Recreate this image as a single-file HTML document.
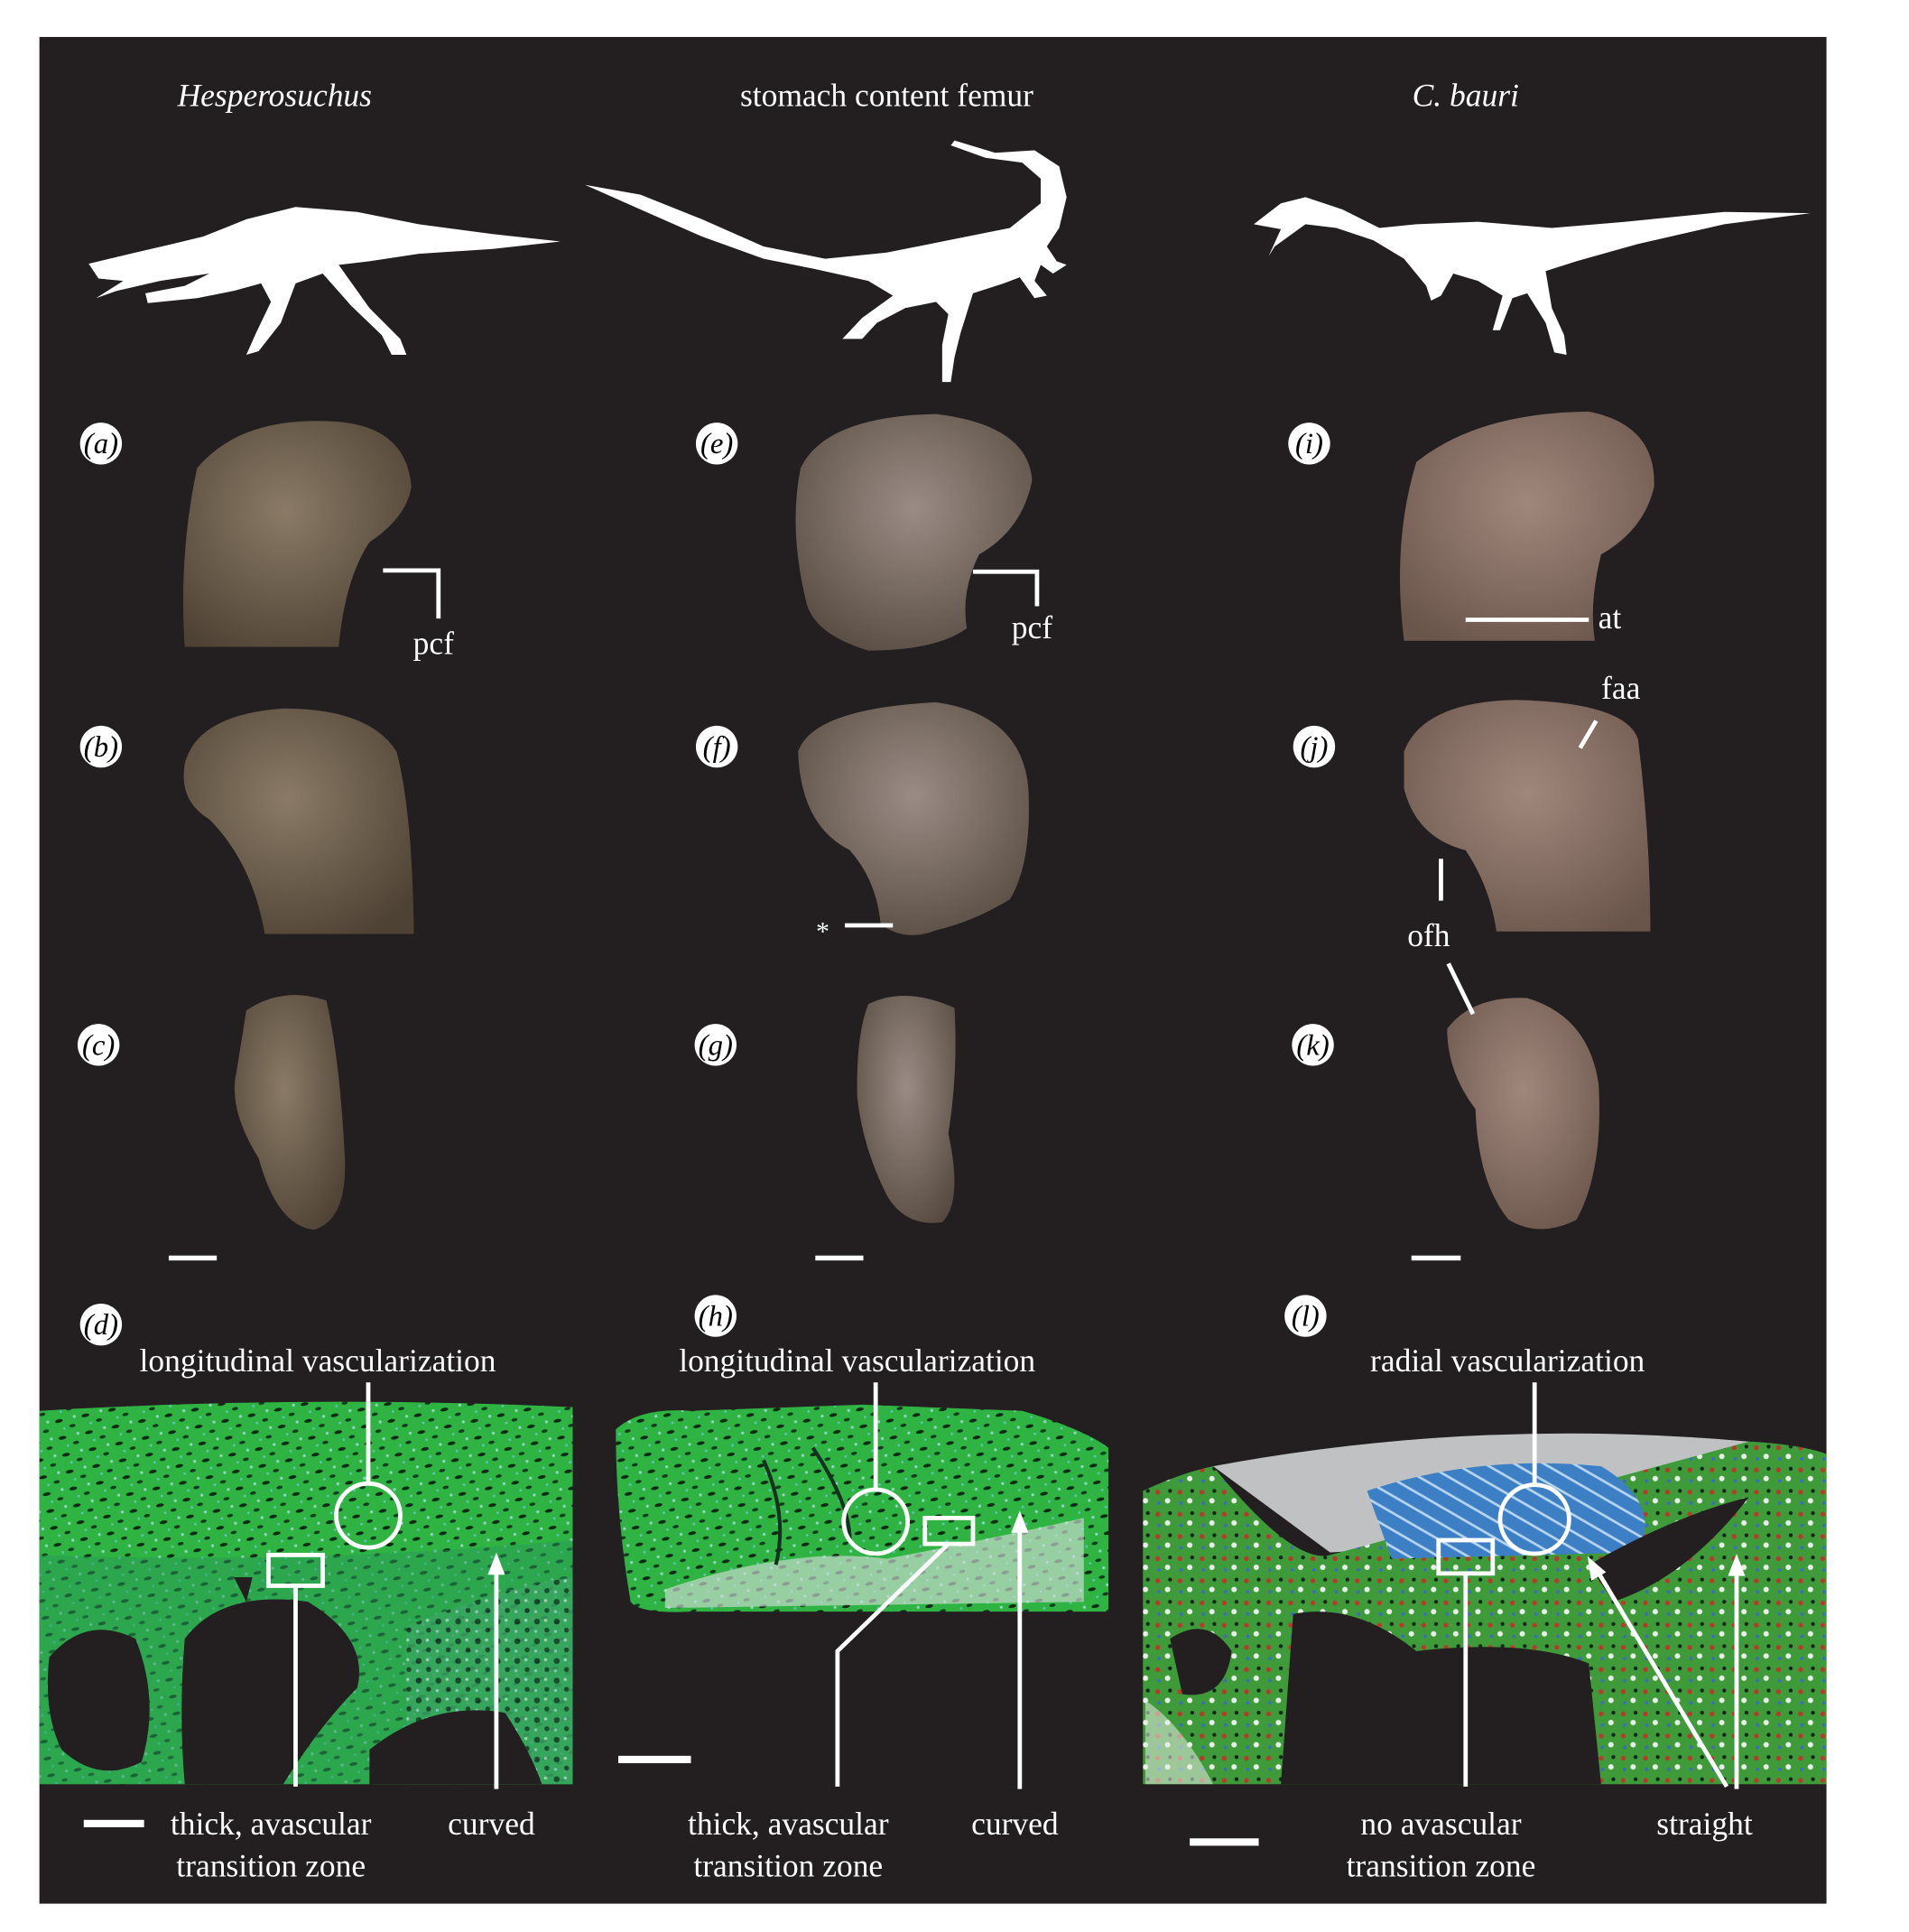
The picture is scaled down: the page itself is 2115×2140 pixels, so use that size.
<!DOCTYPE html>
<html><head><meta charset="utf-8"><style>
html,body{margin:0;padding:0;background:#fff;}
svg{display:block;}
text{font-family:"Liberation Serif",serif;fill:#fff;}
</style></head><body>
<svg width="2115" height="2140" viewBox="0 0 1550 1568" preserveAspectRatio="none" xmlns="http://www.w3.org/2000/svg">
<defs>
<pattern id="pores" width="22" height="14" patternUnits="userSpaceOnUse" patternTransform="rotate(-12)">
<rect width="22" height="14" fill="#2fb443"/>
<ellipse cx="5" cy="4" rx="3.2" ry="1.4" fill="#0e2a14"/>
<ellipse cx="15" cy="10" rx="2.5" ry="1.3" fill="#123a1c"/>
<circle cx="18" cy="3" r="1.2" fill="#8fd6c0"/>
<circle cx="8" cy="11" r="1" fill="#5fc5b8"/>
</pattern>
<pattern id="pores2" width="16" height="16" patternUnits="userSpaceOnUse">
<rect width="16" height="16" fill="#3aa564"/>
<circle cx="4" cy="4" r="2.4" fill="#10251a"/>
<circle cx="12" cy="11" r="2" fill="#13261b"/>
<circle cx="11" cy="3" r="1.3" fill="#c9e6e0"/>
<circle cx="3" cy="12" r="1.2" fill="#b0d8e8"/>
</pattern>
<pattern id="redp" width="18" height="18" patternUnits="userSpaceOnUse">
<rect width="18" height="18" fill="#3f9a3a"/>
<circle cx="4" cy="5" r="2" fill="#b83a2a"/>
<circle cx="12" cy="12" r="2.2" fill="#e8eee8"/>
<circle cx="14" cy="4" r="1.6" fill="#13261b"/>
<circle cx="5" cy="14" r="1.4" fill="#3a6cc0"/>
</pattern>
<pattern id="bluep" width="12" height="12" patternUnits="userSpaceOnUse" patternTransform="rotate(30)">
<rect width="12" height="12" fill="#3d7fc4"/>
<rect x="0" y="5" width="12" height="2" fill="#b6d4ee"/>
</pattern>
<radialGradient id="boneA" cx="0.45" cy="0.4" r="0.7"><stop offset="0" stop-color="#8a7a66"/><stop offset="1" stop-color="#4e4234"/></radialGradient>
<radialGradient id="boneE" cx="0.5" cy="0.4" r="0.7"><stop offset="0" stop-color="#9a8c84"/><stop offset="1" stop-color="#55493f"/></radialGradient>
<radialGradient id="boneI" cx="0.5" cy="0.4" r="0.7"><stop offset="0" stop-color="#a0877c"/><stop offset="1" stop-color="#6a554a"/></radialGradient>
</defs>

<rect x="32" y="30" width="1451" height="1515" fill="#231f20"/>

<text x="223" y="86" font-size="26" font-style="italic" text-anchor="middle">Hesperosuchus</text>
<text x="720" y="86" font-size="26" text-anchor="middle">stomach content femur</text>
<text x="1190" y="86" font-size="26" font-style="italic" text-anchor="middle">C. bauri</text>

<!-- silhouettes -->
<path fill="#fff" d="M72 214 L110 205 L140 198 L165 192 L200 178 L240 168 L290 172 L340 182 L400 190 L455 196 L400 202 L340 206 L300 212 L275 215 L300 250 L325 275 L330 288 L318 288 L310 272 L285 248 L262 222 L240 230 L228 262 L210 285 L200 288 L208 270 L220 245 L212 230 L190 236 L160 242 L120 246 L118 238 L150 232 L170 222 L130 228 L95 236 L78 242 L100 228 L80 226 Z"/>
<path fill="#fff" d="M475 150 L520 158 L570 178 L620 200 L670 210 L720 205 L770 195 L820 185 L845 165 L845 145 L830 132 L800 128 L772 118 L775 114 L808 124 L840 122 L860 135 L866 160 L860 185 L850 200 L858 212 L866 215 L855 222 L845 215 L840 228 L850 240 L840 242 L828 225 L815 230 L790 238 L780 270 L775 290 L772 310 L765 310 L765 280 L770 255 L760 245 L735 250 L712 262 L700 275 L684 275 L700 258 L725 240 L705 228 L660 218 L620 210 L570 192 L520 170 Z"/>
<path fill="#fff" d="M1018 182 L1040 165 L1060 160 L1090 170 L1120 185 L1150 182 L1200 180 L1260 185 L1320 180 L1400 172 L1470 173 L1400 182 L1330 198 L1280 212 L1255 220 L1260 250 L1270 272 L1272 288 L1262 286 L1255 262 L1240 238 L1228 242 L1218 268 L1212 268 L1220 240 L1200 228 L1180 222 L1170 240 L1162 244 L1158 232 L1140 210 L1115 195 L1085 185 L1060 182 L1035 200 L1030 208 L1040 186 Z"/>

<!-- bones -->
<path fill="url(#boneA)" d="M160 380 Q195 338 270 342 Q330 345 334 395 Q330 420 300 440 Q280 470 275 525 L150 525 Q145 450 160 380 Z"/>
<path fill="url(#boneA)" d="M150 620 Q160 580 230 575 Q300 575 322 610 Q335 660 336 758 L215 758 Q205 700 170 665 Q145 650 150 620 Z"/>
<path fill="url(#boneA)" d="M200 820 Q230 800 265 812 Q276 860 280 940 Q282 990 255 998 Q225 995 210 940 Q185 900 192 870 Z"/>
<path fill="url(#boneE)" d="M650 380 Q670 338 760 336 Q835 345 838 390 Q830 430 795 450 Q780 480 785 510 Q760 528 705 528 Q662 515 655 490 Q640 430 650 380 Z"/>
<path fill="url(#boneE)" d="M648 610 Q660 575 760 570 Q830 580 835 640 Q838 700 820 730 Q790 748 760 755 Q735 765 715 750 Q712 715 690 690 Q650 670 648 610 Z"/>
<path fill="url(#boneE)" d="M705 815 Q735 800 775 818 Q778 870 770 920 Q782 975 765 992 Q735 996 720 970 Q700 930 696 890 Q695 840 705 815 Z"/>
<path fill="url(#boneI)" d="M1150 375 Q1200 335 1290 334 Q1345 345 1343 395 Q1335 430 1300 450 Q1290 490 1295 520 L1140 520 Q1130 440 1150 375 Z"/>
<path fill="url(#boneI)" d="M1140 610 Q1155 570 1230 568 Q1320 570 1330 600 Q1340 680 1340 756 L1215 756 Q1210 720 1190 690 Q1150 680 1140 640 Z"/>
<path fill="url(#boneI)" d="M1175 835 Q1195 808 1240 810 Q1290 825 1298 880 Q1302 950 1280 990 Q1250 1005 1225 990 Q1200 960 1198 900 Q1175 870 1175 835 Z"/>

<!-- panel letters -->
<g font-size="24" font-style="italic">
<g><circle cx="82" cy="360" r="17" fill="#fff"/><text x="82" y="368" text-anchor="middle" style="fill:#000">(a)</text></g>
<g><circle cx="82" cy="606" r="17" fill="#fff"/><text x="82" y="614" text-anchor="middle" style="fill:#000">(b)</text></g>
<g><circle cx="80" cy="848" r="17" fill="#fff"/><text x="80" y="856" text-anchor="middle" style="fill:#000">(c)</text></g>
<g><circle cx="82" cy="1075" r="17" fill="#fff"/><text x="82" y="1083" text-anchor="middle" style="fill:#000">(d)</text></g>
<g><circle cx="582" cy="360" r="17" fill="#fff"/><text x="582" y="368" text-anchor="middle" style="fill:#000">(e)</text></g>
<g><circle cx="582" cy="606" r="17" fill="#fff"/><text x="582" y="614" text-anchor="middle" style="fill:#000">(f)</text></g>
<g><circle cx="581" cy="848" r="17" fill="#fff"/><text x="581" y="856" text-anchor="middle" style="fill:#000">(g)</text></g>
<g><circle cx="581" cy="1068" r="17" fill="#fff"/><text x="581" y="1076" text-anchor="middle" style="fill:#000">(h)</text></g>
<g><circle cx="1063" cy="360" r="17" fill="#fff"/><text x="1063" y="368" text-anchor="middle" style="fill:#000">(i)</text></g>
<g><circle cx="1067" cy="606" r="17" fill="#fff"/><text x="1067" y="614" text-anchor="middle" style="fill:#000">(j)</text></g>
<g><circle cx="1066" cy="848" r="17" fill="#fff"/><text x="1066" y="856" text-anchor="middle" style="fill:#000">(k)</text></g>
<g><circle cx="1060" cy="1068" r="17" fill="#fff"/><text x="1060" y="1076" text-anchor="middle" style="fill:#000">(l)</text></g>
</g>

<!-- annotations on femora -->
<g stroke="#fff" stroke-width="3.5" fill="none">
<path d="M311 463 L356 463 L356 502"/>
<path d="M790 464 L842 464 L842 492"/>
<line x1="1190" y1="503" x2="1290" y2="503"/>
<line x1="1296" y1="585" x2="1283" y2="607"/>
<line x1="1170" y1="697" x2="1170" y2="731"/>
<line x1="1176" y1="782" x2="1196" y2="823"/>
<line x1="686" y1="751" x2="725" y2="751"/>
</g>
<text x="352" y="531" font-size="26" text-anchor="middle">pcf</text>
<text x="838" y="518" font-size="26" text-anchor="middle">pcf</text>
<text x="1307" y="510" font-size="26" text-anchor="middle">at</text>
<text x="1316" y="567" font-size="26" text-anchor="middle">faa</text>
<text x="1160" y="768" font-size="26" text-anchor="middle">ofh</text>
<text x="668" y="763" font-size="22" text-anchor="middle">*</text>

<!-- scale bars -->
<g fill="#fff">
<rect x="137" y="1019" width="39" height="4"/>
<rect x="662" y="1019" width="39" height="4"/>
<rect x="1146" y="1019" width="40" height="4"/>
<rect x="68" y="1477" width="49" height="6"/>
<rect x="502" y="1425" width="59" height="6"/>
<rect x="966" y="1492" width="56" height="6"/>
</g>

<!-- histology d -->
<g>
<path fill="url(#pores)" d="M32 1145 Q250 1132 465 1142 L465 1448 L32 1448 Z"/>
<path fill="#2a9a5a" opacity="0.5" d="M32 1262 Q250 1270 465 1250 L465 1448 L32 1448 Z"/>
<path fill="url(#pores2)" opacity="0.7" d="M330 1320 Q400 1290 465 1280 L465 1448 L330 1448 Z"/>
<path fill="#231f20" d="M40 1345 Q70 1310 110 1330 Q130 1380 115 1430 Q80 1448 50 1420 Q35 1390 40 1345 Z"/>
<path fill="#231f20" d="M150 1330 Q180 1290 250 1300 Q300 1330 290 1370 Q260 1400 230 1448 L150 1448 Q145 1390 150 1330 Z"/>
<path fill="#231f20" d="M300 1420 Q350 1380 410 1390 Q430 1420 440 1448 L300 1448 Z"/>
<path fill="#231f20" d="M190 1280 L205 1280 L200 1300 Z"/>
</g>
<!-- histology h -->
<g>
<path fill="url(#pores)" d="M500 1160 Q520 1142 560 1145 L700 1140 L830 1145 Q880 1160 900 1175 L900 1308 L560 1308 Q520 1310 512 1300 Q500 1230 500 1160 Z"/>
<path fill="#d0dcd6" opacity="0.65" d="M540 1290 Q640 1255 720 1265 Q800 1250 880 1232 L880 1300 L540 1305 Z"/>
<path fill="none" stroke="#16301f" stroke-width="3" d="M620 1185 Q640 1230 630 1270 M660 1175 Q690 1220 690 1250"/>
</g>
<!-- histology l -->
<g>
<path fill="#bfc1c2" d="M985 1190 Q1200 1150 1420 1170 L1380 1240 L1080 1260 Z"/>
<path fill="url(#redp)" d="M928 1210 Q960 1195 985 1190 Q1050 1270 1080 1262 L1420 1170 Q1460 1172 1483 1180 L1483 1448 L928 1448 Z"/>
<path fill="url(#bluep)" d="M1110 1210 Q1200 1180 1300 1190 Q1350 1220 1330 1260 L1130 1265 Z"/>
<path fill="#231f20" d="M1050 1310 Q1100 1300 1150 1340 Q1240 1330 1290 1350 L1300 1448 L1040 1448 Z"/>
<path fill="#231f20" d="M1290 1270 Q1360 1230 1420 1215 Q1370 1280 1310 1300 Z"/>
<path fill="#231f20" d="M950 1330 Q980 1310 1000 1340 Q995 1380 960 1375 Z"/>
<path fill="#e8ece8" opacity="0.55" d="M930 1380 Q960 1400 985 1448 L930 1448 Z"/>
</g>

<!-- histology annotations -->
<g stroke="#fff" stroke-width="3.5" fill="none">
<line x1="299" y1="1122" x2="299" y2="1204"/>
<circle cx="299" cy="1230" r="26"/>
<rect x="218" y="1262" width="44" height="25"/>
<line x1="240" y1="1287" x2="240" y2="1450"/>
<line x1="403" y1="1452" x2="403" y2="1275"/>
<line x1="711" y1="1122" x2="711" y2="1209"/>
<circle cx="711" cy="1235" r="26"/>
<rect x="751" y="1232" width="39" height="21"/>
<path d="M770 1253 L680 1340 L680 1450"/>
<line x1="828" y1="1452" x2="828" y2="1240"/>
<line x1="1246" y1="1122" x2="1246" y2="1205"/>
<circle cx="1246" cy="1233" r="28"/>
<rect x="1168" y="1250" width="44" height="27"/>
<line x1="1190" y1="1277" x2="1190" y2="1450"/>
<line x1="1410" y1="1452" x2="1410" y2="1275"/>
<line x1="1402" y1="1450" x2="1297" y2="1275"/>
</g>
<g fill="#fff">
<polygon points="403,1260 396,1278 410,1278"/>
<polygon points="828,1226 821,1244 835,1244"/>
<polygon points="1410,1261 1403,1279 1417,1279"/>
<polygon points="1289,1263 1292,1283 1304,1276"/>
</g>

<g font-size="26">
<text x="258" y="1113" text-anchor="middle">longitudinal vascularization</text>
<text x="696" y="1113" text-anchor="middle">longitudinal vascularization</text>
<text x="1224" y="1113" text-anchor="middle">radial vascularization</text>
<text x="220" y="1489" text-anchor="middle">thick, avascular</text>
<text x="220" y="1523" text-anchor="middle">transition zone</text>
<text x="399" y="1489" text-anchor="middle">curved</text>
<text x="640" y="1489" text-anchor="middle">thick, avascular</text>
<text x="640" y="1523" text-anchor="middle">transition zone</text>
<text x="824" y="1489" text-anchor="middle">curved</text>
<text x="1170" y="1489" text-anchor="middle">no avascular</text>
<text x="1170" y="1523" text-anchor="middle">transition zone</text>
<text x="1384" y="1489" text-anchor="middle">straight</text>
</g>
</svg>
</body></html>
